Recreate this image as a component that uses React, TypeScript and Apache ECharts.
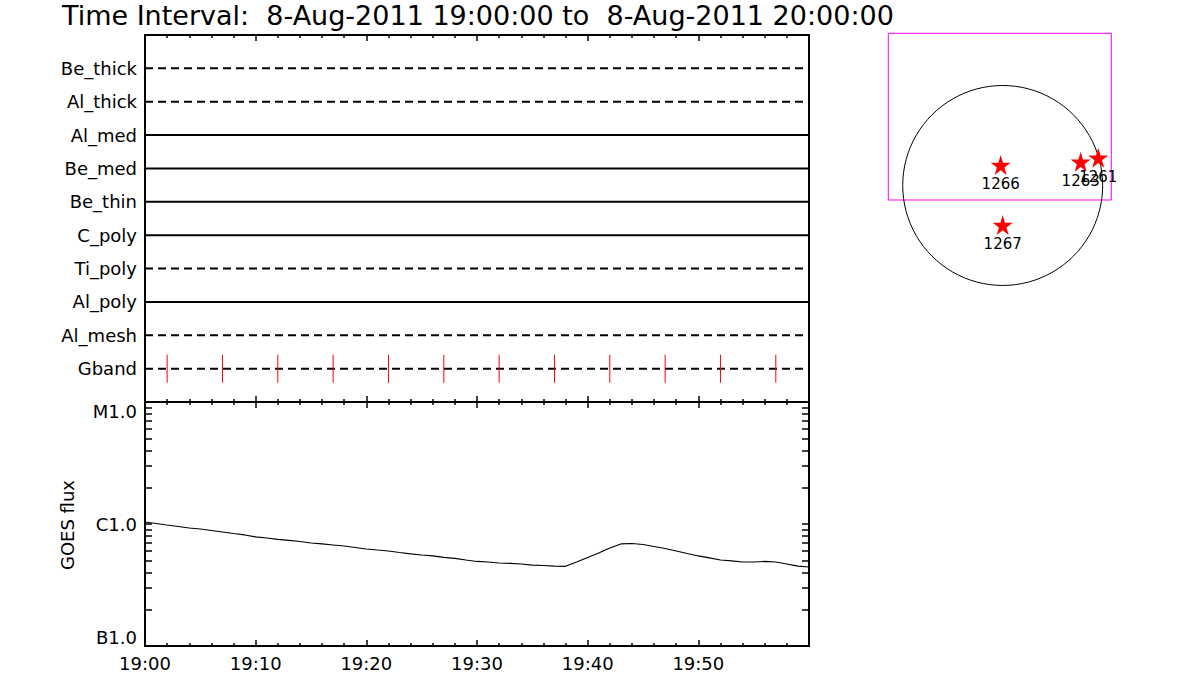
import React, { useEffect, useRef } from "react";
import * as echarts from "echarts";

const titleText = "Time Interval:  8-Aug-2011 19:00:00 to  8-Aug-2011 20:00:00";

const detectorNames = ["Be_thick", "Al_thick", "Al_med", "Be_med", "Be_thin", "C_poly", "Ti_poly", "Al_poly", "Al_mesh", "Gband"];
const detectorDashed = [true, true, false, false, false, false, true, false, true, true];
const gbandMarkMinutes = [2, 7, 12, 17, 22, 27, 32, 37, 42, 47, 52, 57];

const timeTickLabels = ["19:00", "19:10", "19:20", "19:30", "19:40", "19:50"];

// GOES flux (W/m^2), one value per minute from 19:00 to 20:00
const goesFlux = [
  1.038e-6, 1.01e-6, 9.81e-7, 9.54e-7, 9.27e-7, 9.1e-7, 8.85e-7, 8.6e-7, 8.36e-7, 8.13e-7,
  7.83e-7, 7.68e-7, 7.47e-7, 7.33e-7, 7.19e-7, 6.99e-7, 6.86e-7, 6.73e-7, 6.6e-7, 6.42e-7,
  6.24e-7, 6.12e-7, 6.01e-7, 5.84e-7, 5.68e-7, 5.57e-7, 5.47e-7, 5.32e-7, 5.22e-7, 5.07e-7,
  4.93e-7, 4.88e-7, 4.79e-7, 4.76e-7, 4.7e-7, 4.61e-7, 4.57e-7, 4.52e-7, 4.5e-7, 4.88e-7,
  5.32e-7, 5.79e-7, 6.36e-7, 6.86e-7, 6.92e-7, 6.79e-7, 6.54e-7, 6.3e-7, 6.01e-7, 5.73e-7,
  5.47e-7, 5.27e-7, 5.07e-7, 4.98e-7, 4.88e-7, 4.88e-7, 4.93e-7, 4.88e-7, 4.7e-7, 4.52e-7,
  4.44e-7,
];

const flareClassExponents = [-7, -6, -5];
const flareClassLabels = ["B1.0", "C1.0", "M1.0"];
const fluxTickValues = [
  1e-7, 2e-7, 3e-7, 4e-7, 5e-7, 6e-7, 7e-7, 8e-7, 9e-7,
  1e-6, 2e-6, 3e-6, 4e-6, 5e-6, 6e-6, 7e-6, 8e-6, 9e-6, 1e-5,
];

// Active regions (heliocentric arcsec)
const activeRegions = ["1266", "1263", "1261", "1267"];
const arX = [-19, 741, 908, 0];
const arY = [195, 226, 264, -375];
const solarRadiusArcsec = 950;

const FONT = "DejaVu Sans";
const STAR = "path://M50,0 L61,35 L98,35 L68,57 L79,91 L50,70 L21,91 L32,57 L2,35 L39,35 Z";

function minuteAxis(gridIndex: number, position: string, withLabels: boolean) {
  return {
    type: "value",
    gridIndex,
    position,
    min: 0,
    max: 60,
    interval: 10,
    axisLine: { show: false, onZero: false },
    axisTick: { show: true, inside: true, length: 6, lineStyle: { color: "#000", width: 1.5 } },
    minorTick: { show: true, splitNumber: 5, length: 3, lineStyle: { color: "#000", width: 1.5 } },
    splitLine: { show: false },
    minorSplitLine: { show: false },
    axisLabel: withLabels
      ? {
          show: true,
          color: "#000",
          fontFamily: FONT,
          fontSize: 18,
          margin: 8,
          formatter: (v: number) => timeTickLabels[Math.round(v / 10)] ?? "",
        }
      : { show: false },
  };
}

function fluxAxis(position: string, withLabels: boolean) {
  return {
    type: "log",
    logBase: 10,
    gridIndex: 1,
    position,
    min: 1e-7,
    max: 1e-5,
    axisLine: { show: false, onZero: false },
    axisTick: { show: true, inside: true, length: 7, customValues: fluxTickValues, lineStyle: { color: "#000", width: 1.5 } },
    splitLine: { show: false },
    axisLabel: withLabels
      ? {
          show: true,
          color: "#000",
          fontFamily: FONT,
          fontSize: 18,
          margin: 8,
          verticalAlignMaxLabel: "top",
          verticalAlignMinLabel: "bottom",
          formatter: (v: number) => {
            const e = Math.round(Math.log10(v));
            const idx = flareClassExponents.indexOf(e);
            return idx >= 0 ? flareClassLabels[idx] : "";
          },
        }
      : { show: false },
  };
}

export default function App() {
  const ref = useRef<HTMLDivElement>(null);

  useEffect(() => {
    if (!ref.current) return;
    const chart = echarts.init(ref.current, undefined, { renderer: "svg" });

    const rowSeries = detectorNames.map((name, i) => ({
      type: "line",
      name,
      xAxisIndex: 0,
      yAxisIndex: 0,
      data: [
        [0, 10 - i],
        [60, 10 - i],
      ],
      symbol: "none",
      silent: true,
      lineStyle: { color: "#000", width: 2, type: detectorDashed[i] ? [8, 5] : "solid" },
    }));

    const option: any = {
      animation: false,
      backgroundColor: "#fff",
      grid: [
        { left: 145, top: 35, width: 664, height: 367, show: true, borderColor: "#000", borderWidth: 2, backgroundColor: "transparent" },
        { left: 145, top: 402, width: 664, height: 244, show: true, borderColor: "#000", borderWidth: 2, backgroundColor: "transparent" },
        { left: 888.3, top: 33.3, width: 223, height: 166.7, show: true, borderColor: "#ff00ff", borderWidth: 1, backgroundColor: "transparent" },
      ],
      xAxis: [
        minuteAxis(0, "bottom", false),
        minuteAxis(0, "top", false),
        minuteAxis(1, "bottom", true),
        minuteAxis(1, "top", false),
        { type: "value", gridIndex: 2, min: -1087, max: 1032, show: false },
      ],
      yAxis: [
        {
          type: "value",
          gridIndex: 0,
          min: 0,
          max: 11,
          interval: 1,
          axisLine: { show: false, onZero: false },
          axisTick: { show: false },
          splitLine: { show: false },
          axisLabel: {
            color: "#000",
            fontFamily: FONT,
            fontSize: 18,
            margin: 8,
            formatter: (v: number) => (v >= 1 && v <= 10 ? detectorNames[10 - v] : ""),
          },
        },
        fluxAxis("left", true),
        fluxAxis("right", false),
        { type: "value", gridIndex: 2, min: -138, max: 1446, show: false },
      ],
      graphic: [
        {
          type: "text",
          x: 62,
          y: 15,
          style: { text: titleText, fontFamily: FONT, fontSize: 27, fill: "#000", align: "left", verticalAlign: "middle" },
        },
        {
          type: "text",
          x: 67,
          y: 525,
          rotation: Math.PI / 2,
          style: { text: "GOES flux", fontFamily: FONT, fontSize: 18, fill: "#000", align: "center", verticalAlign: "middle" },
        },
      ],
      series: [
        ...rowSeries,
        {
          type: "scatter",
          xAxisIndex: 0,
          yAxisIndex: 0,
          data: gbandMarkMinutes.map((t) => [t, 1]),
          symbol: "rect",
          symbolSize: [1, 28],
          itemStyle: { color: "#ff0000", opacity: 1 },
          silent: true,
          z: 5,
        },
        {
          type: "line",
          xAxisIndex: 2,
          yAxisIndex: 1,
          data: goesFlux.map((v, i) => [i, v]),
          symbol: "none",
          lineStyle: { color: "#000", width: 1.2 },
          silent: true,
        },
        {
          type: "custom",
          coordinateSystem: "cartesian2d",
          xAxisIndex: 4,
          yAxisIndex: 3,
          clip: false,
          data: [[0, 0, solarRadiusArcsec]],
          renderItem: (params: any, api: any) => {
            const c = api.coord([api.value(0), api.value(1)]);
            const r = api.size([api.value(2), 0])[0];
            return {
              type: "circle",
              shape: { cx: c[0], cy: c[1], r },
              style: { fill: "none", stroke: "#000", lineWidth: 1 },
            };
          },
          silent: true,
        },
        {
          type: "scatter",
          xAxisIndex: 4,
          yAxisIndex: 3,
          clip: false,
          symbol: STAR,
          symbolSize: 20,
          itemStyle: { color: "#ff0000", opacity: 1 },
          data: activeRegions.map((n, i) => ({ name: n, value: [arX[i], arY[i]] })),
          label: {
            show: true,
            position: "bottom",
            distance: 2,
            formatter: (p: any) => p.name,
            color: "#000",
            fontFamily: FONT,
            fontSize: 15,
          },
          silent: true,
          z: 5,
        },
      ],
    };

    chart.setOption(option);
    return () => chart.dispose();
  }, []);

  return (
    <div
      ref={ref}
      style={{ position: "fixed", left: 0, top: 0, width: 1200, height: 700, background: "#fff" }}
    />
  );
}
